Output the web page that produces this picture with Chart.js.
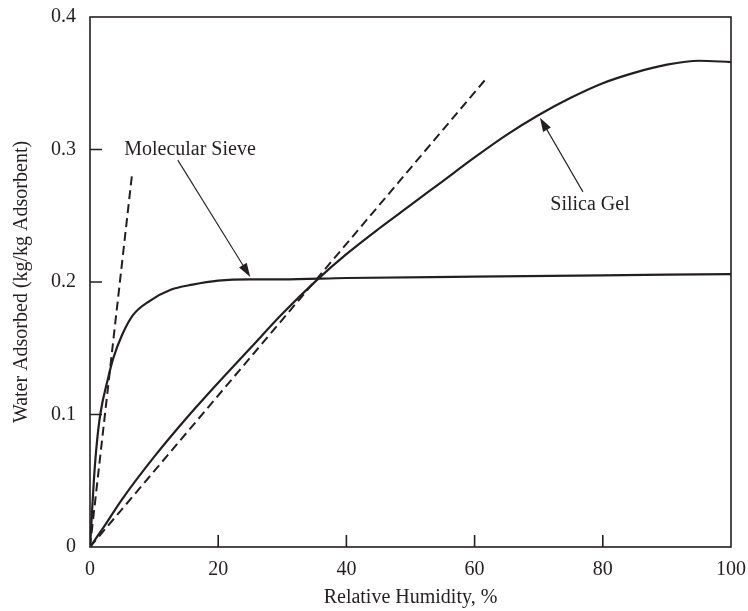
<!DOCTYPE html>
<html>
<head>
<meta charset="utf-8">
<script src="https://cdn.jsdelivr.net/npm/chart.js@4/dist/chart.umd.min.js"></script>
<style>
  html, body { margin: 0; padding: 0; background: #fff; }
  canvas { display: block; }
</style>
</head>
<body>
<canvas id="chart" width="748" height="611"></canvas>
<script>
// values
var sieveRH = [0, 0.3, 0.6, 1.0, 1.6, 2.8, 3.6, 5, 6.7, 9.4, 12.5, 16, 20, 25, 30, 40, 60, 80, 100];
var sieveW  = [0, 0.025, 0.05, 0.075, 0.1, 0.127, 0.142, 0.16, 0.175, 0.186, 0.194, 0.198, 0.201, 0.202, 0.202, 0.203, 0.204, 0.205, 0.206];

var silicaRH = [0, 2, 5, 10, 15, 20, 25, 30, 35.5, 40, 45, 50, 55, 60, 65, 70, 75, 80, 85, 90, 95, 100];
var silicaW  = [0, 0.014, 0.036, 0.068, 0.097, 0.124, 0.150, 0.176, 0.202, 0.221, 0.240, 0.258, 0.276, 0.294, 0.311, 0.326, 0.339, 0.350, 0.358, 0.364, 0.367, 0.366];

var sieveTanRH = [0, 6.55];
var sieveTanW  = [0, 0.281];
var silicaTanRH = [0, 61.9];
var silicaTanW  = [0, 0.354];

var xTicks = [0, 20, 40, 60, 80, 100];
var yTicks = [0, 0.1, 0.2, 0.3, 0.4];

// labels with arrows: [text, textX, textY, tailX, tailY, headX, headY]
var notes = [
  ['Molecular Sieve', 15.6, 0.2996, 13.7, 0.292, 25.0, 0.2038],
  ['Silica Gel', 78.0, 0.258, 76.9, 0.268, 70.2, 0.324]
];

function pts(xs, ys) {
  return xs.map(function(x, i) { return {x: x, y: ys[i]}; });
}

var ink = '#231f20';
var serif = '"Liberation Serif", "DejaVu Serif", serif';
var fs = 20;

var framePlugin = {
  id: 'frame',
  afterDraw: function(chart) {
    var ctx = chart.ctx, a = chart.chartArea;
    var xs = chart.scales.x, ys = chart.scales.y;
    ctx.save();
    ctx.strokeStyle = ink;
    ctx.lineWidth = 1.6;
    ctx.strokeRect(a.left, a.top, a.right - a.left, a.bottom - a.top);
    // inward ticks
    ctx.beginPath();
    xTicks.slice(1, -1).forEach(function(v) {
      var px = xs.getPixelForValue(v);
      ctx.moveTo(px, a.bottom); ctx.lineTo(px, a.bottom - 12);
    });
    yTicks.slice(1, -1).forEach(function(v) {
      var py = ys.getPixelForValue(v);
      ctx.moveTo(a.left, py); ctx.lineTo(a.left + 12, py);
    });
    ctx.stroke();

    // annotations
    ctx.font = fs + 'px ' + serif;
    ctx.fillStyle = ink;
    ctx.textAlign = 'center';
    ctx.textBaseline = 'middle';
    notes.forEach(function(n) {
      ctx.fillText(n[0], xs.getPixelForValue(n[1]), ys.getPixelForValue(n[2]));
      var x0 = xs.getPixelForValue(n[3]), y0 = ys.getPixelForValue(n[4]);
      var x1 = xs.getPixelForValue(n[5]), y1 = ys.getPixelForValue(n[6]);
      var ang = Math.atan2(y1 - y0, x1 - x0);
      ctx.lineWidth = 1.1;
      ctx.beginPath();
      ctx.moveTo(x0, y0);
      ctx.lineTo(x1 - 10 * Math.cos(ang), y1 - 10 * Math.sin(ang));
      ctx.stroke();
      ctx.beginPath();
      ctx.moveTo(x1, y1);
      ctx.lineTo(x1 - 14 * Math.cos(ang) + 4.5 * Math.sin(ang), y1 - 14 * Math.sin(ang) - 4.5 * Math.cos(ang));
      ctx.lineTo(x1 - 14 * Math.cos(ang) - 4.5 * Math.sin(ang), y1 - 14 * Math.sin(ang) + 4.5 * Math.cos(ang));
      ctx.closePath();
      ctx.fill();
    });
    ctx.restore();
  }
};

var solid = { borderColor: ink, borderWidth: 2.2, pointRadius: 0, fill: false, cubicInterpolationMode: 'monotone' };
var dashed = { borderColor: ink, borderWidth: 2, pointRadius: 0, fill: false, borderDash: [9, 5] };

new Chart(document.getElementById('chart'), {
  type: 'line',
  data: {
    datasets: [
      Object.assign({ label: 'Molecular Sieve', data: pts(sieveRH, sieveW) }, solid),
      Object.assign({ label: 'Silica Gel', data: pts(silicaRH, silicaW) }, solid),
      Object.assign({ label: 'Sieve tangent', data: pts(sieveTanRH, sieveTanW) }, dashed),
      Object.assign({ label: 'Silica tangent', data: pts(silicaTanRH, silicaTanW) }, dashed)
    ]
  },
  options: {
    responsive: false,
    animation: false,
    devicePixelRatio: 1,
    layout: { padding: { left: 0, right: 17, top: 17, bottom: 0 } },
    plugins: { legend: { display: false }, tooltip: { enabled: false } },
    scales: {
      x: {
        type: 'linear', min: 0, max: 100,
        afterBuildTicks: function(s) { s.ticks = xTicks.map(function(v) { return {value: v}; }); },
        afterFit: function(s) { s.height = 64; s.paddingLeft = 0; s.paddingRight = 0; },
        grid: { display: false, drawTicks: false },
        border: { display: false },
        ticks: { color: ink, font: { family: serif, size: fs }, padding: 11, maxRotation: 0 },
        title: { display: true, text: 'Relative Humidity, %', color: ink, font: { family: serif, size: fs }, padding: { top: 0, bottom: 1 } }
      },
      y: {
        type: 'linear', min: 0, max: 0.4,
        afterBuildTicks: function(s) { s.ticks = yTicks.map(function(v) { return {value: v}; }); },
        afterFit: function(s) { s.width = 90; s.paddingTop = 0; s.paddingBottom = 0; },
        grid: { display: false, drawTicks: false },
        border: { display: false },
        ticks: { color: ink, font: { family: serif, size: fs }, padding: 14 },
        title: { display: true, text: 'Water Adsorbed (kg/kg Adsorbent)', color: ink, font: { family: serif, size: fs }, padding: { top: 10, bottom: 0 } }
      }
    }
  },
  plugins: [framePlugin]
});
</script>
</body>
</html>
